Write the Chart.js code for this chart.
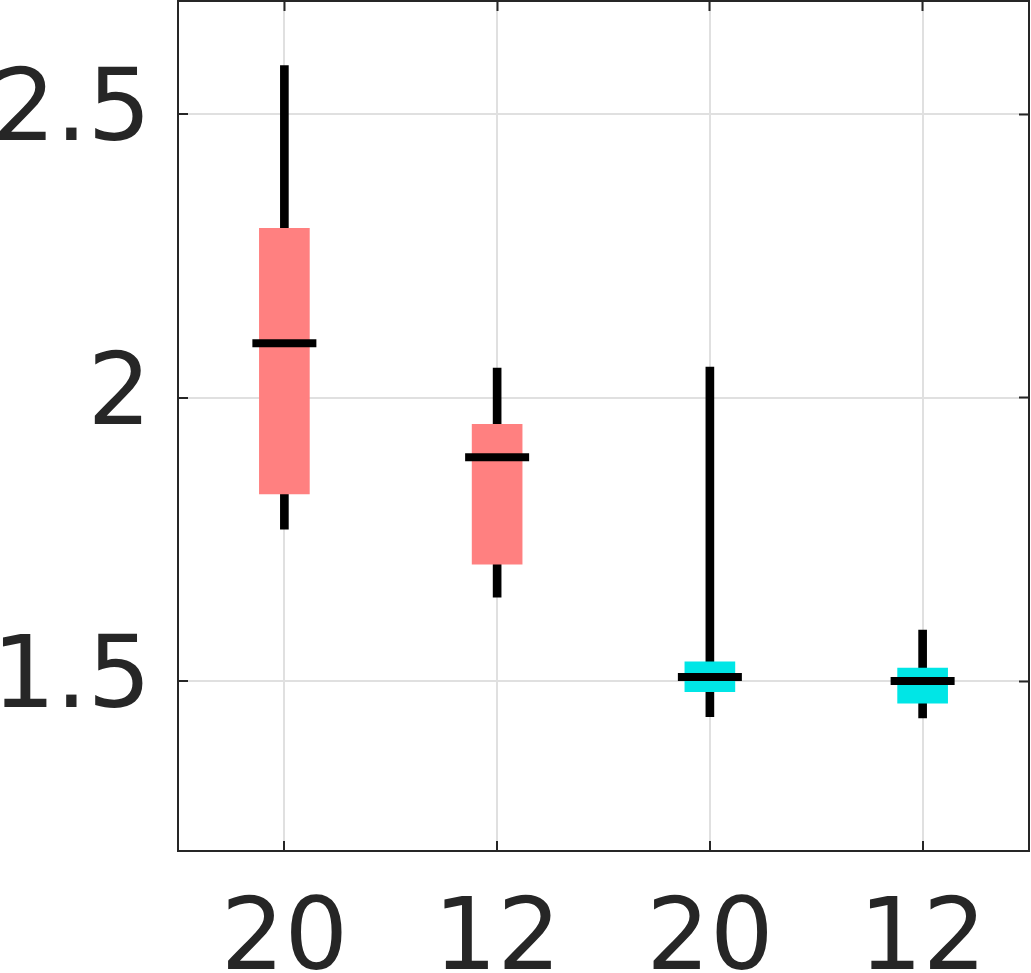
<!DOCTYPE html>
<html>
<head>
<meta charset="utf-8">
<script src="https://cdn.jsdelivr.net/npm/chart.js@4"></script>
<style>
html,body{margin:0;padding:0;background:#fff;}
#wrap{width:1031px;height:973px;}
</style>
</head>
<body>
<div id="wrap"><canvas id="c" width="1031" height="973"></canvas></div>
<script>
const categories = ['20', '12', '20', '12'];
const whiskerLow  = [1.768, 1.648, 1.437, 1.435];
const q1          = [1.830, 1.706, 1.481, 1.461];
const medians     = [2.096, 1.895, 1.507, 1.500];
const q3          = [2.299, 1.953, 1.534, 1.523];
const whiskerHigh = [2.586, 2.052, 2.054, 1.590];
const boxColors   = ['rgb(255,128,128)', 'rgb(255,128,128)', 'rgb(0,230,230)', 'rgb(0,230,230)'];
const yTicks      = [1.5, 2, 2.5];
const yMin = 1.2, yMax = 2.7;

const AXIS = '#262626';
const GRID = '#e0e0e0';
const FONT = {family: 'DejaVu Sans', size: 100};

const whiskerData = categories.map((c, i) => [whiskerLow[i], whiskerHigh[i]]);
const boxData = categories.map((c, i) => [q1[i], q3[i]]);

const setTicks = s => { s.ticks = yTicks.map(v => ({value: v})); };
const noPad = s => { s.paddingTop = 0; s.paddingBottom = 0; s.paddingLeft = 0; s.paddingRight = 0; };

new Chart(document.getElementById('c'), {
  data: {
    labels: categories,
    datasets: [
      {type: 'line', data: medians, showLine: false, pointStyle: 'line', pointRadius: 32,
       pointBorderWidth: 8, pointBorderColor: '#000', pointBackgroundColor: '#000', order: 1},
      {type: 'bar', data: boxData, backgroundColor: boxColors, borderWidth: 0,
       barThickness: 50, grouped: false, order: 2},
      {type: 'bar', data: whiskerData, backgroundColor: '#000', borderWidth: 0,
       barThickness: 8, grouped: false, order: 3}
    ]
  },
  options: {
    responsive: false,
    animation: false,
    events: [],
    devicePixelRatio: 1,
    layout: {padding: 0, autoPadding: false},
    plugins: {legend: {display: false}, tooltip: {enabled: false}},
    scales: {
      x: {
        type: 'category', position: 'bottom', offset: true,
        grid: {offset: false, color: GRID, lineWidth: 2, tickColor: AXIS, tickWidth: 2, tickLength: -10},
        border: {color: AXIS, width: 2},
        ticks: {color: AXIS, font: FONT, padding: 42, maxRotation: 0, autoSkip: false},
        afterFit: s => { s.height = 122; noPad(s); }
      },
      x2: {
        type: 'category', position: 'top', offset: true, labels: categories,
        grid: {offset: false, drawOnChartArea: false, tickColor: AXIS, tickWidth: 2, tickLength: -10},
        border: {color: AXIS, width: 2},
        ticks: {display: false},
        afterFit: s => { s.height = 1; noPad(s); }
      },
      y: {
        type: 'linear', position: 'left', min: yMin, max: yMax,
        grid: {color: GRID, lineWidth: 2, tickColor: AXIS, tickWidth: 2, tickLength: -10},
        border: {color: AXIS, width: 2},
        ticks: {color: AXIS, font: FONT, padding: 37, callback: v => String(v)},
        afterBuildTicks: setTicks,
        afterFit: s => { s.width = 178; noPad(s); }
      },
      y2: {
        type: 'linear', position: 'right', min: yMin, max: yMax,
        grid: {drawOnChartArea: false, tickColor: AXIS, tickWidth: 2, tickLength: -10},
        border: {color: AXIS, width: 2},
        ticks: {display: false},
        afterBuildTicks: setTicks,
        afterFit: s => { s.width = 2; noPad(s); }
      }
    }
  }
});
</script>
</body>
</html>
